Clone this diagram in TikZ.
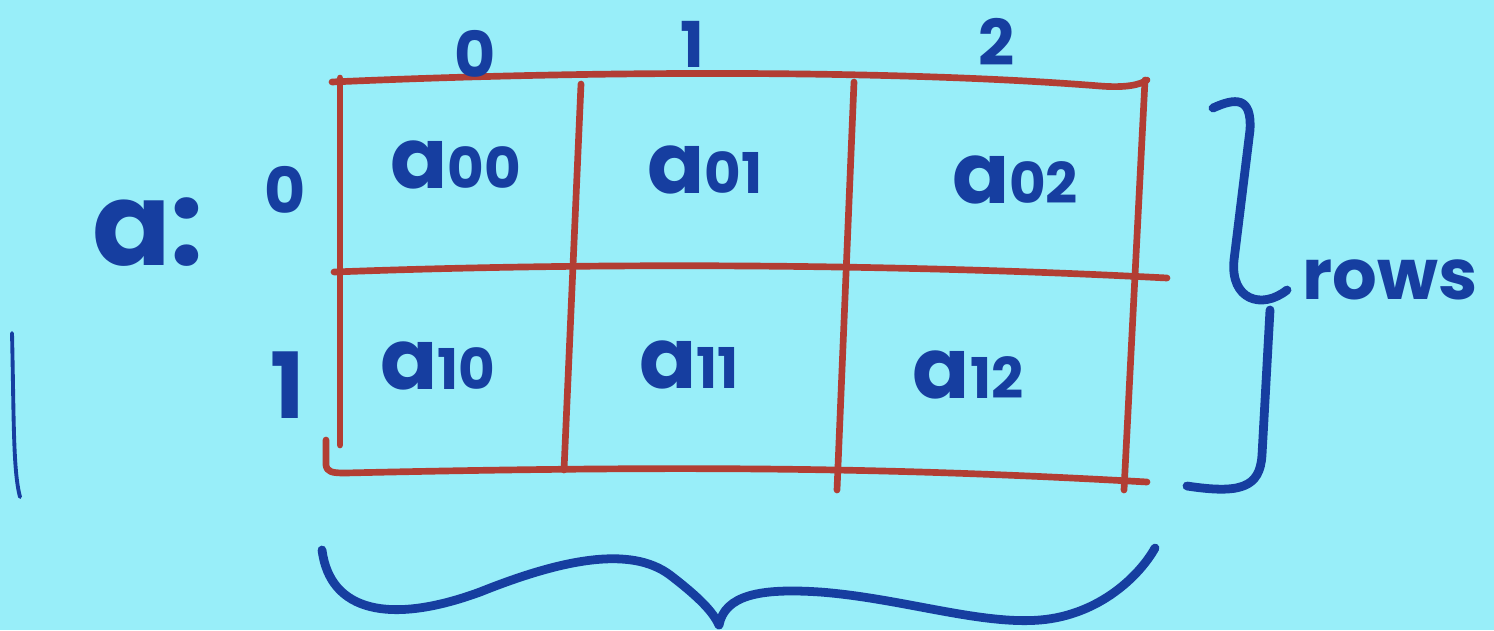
\documentclass[tikz,border=0pt]{standalone}
\usepackage{fontspec}
\setmainfont{Poppins}
\definecolor{bgcyan}{RGB}{152,238,249}
\definecolor{ink}{RGB}{22,62,160}
\definecolor{redink}{RGB}{178,62,52}
\newcommand{\cellsub}[1]{{\fontsize{32}{36}\selectfont #1}}
\begin{document}
\begin{tikzpicture}[x=0.02cm,y=-0.02cm,
  gridline/.style={draw=redink,line width=3.8pt,line cap=round,line join=round},
  bluestroke/.style={draw=ink,line width=5pt,line cap=round,line join=round},
  idx/.style={text=ink,font=\bfseries\fontsize{36}{40}\selectfont,inner sep=0pt},
  cell/.style={text=ink,font=\bfseries\fontsize{48}{52}\selectfont,inner sep=0pt},
  lbl/.style={text=ink,font=\bfseries\fontsize{40}{44}\selectfont,inner sep=0pt}]
\fill[bgcyan] (0,0) rectangle (1494,630);
\useasboundingbox (0,0) rectangle (1494,630);
% grid
\draw[gridline] (332,82) .. controls (600,70) and (900,70) .. (1100,86)
  .. controls (1125,88) and (1140,85) .. (1147,80);
\draw[gridline] (334,272) .. controls (600,262) and (900,264) .. (1167,278);
\draw[gridline] (326,440) -- (326,465) .. controls (327,472) and (332,473) .. (345,473)
  .. controls (700,465) and (900,468) .. (1147,482);
\draw[gridline] (340,78) -- (340,445);
\draw[gridline] (581,84) -- (564,470);
\draw[gridline] (854,82) -- (837,490);
\draw[gridline] (1145,80) -- (1124,490);
% column indices
\node[idx] (c0) at (475,54) {0};
\node[idx] (c1) at (692,44) {1};
\node[idx] (c2) at (997,42) {2};
% row indices
\node[idx] (r0) at (285,190) {0};
\node[idx,font=\bfseries\fontsize{52}{56}\selectfont] (r1) at (288,385) {1};
% array name
\node[lbl,font=\bfseries\fontsize{66}{70}\selectfont] (aname) at (148,232) {a:};
% cells
\node[cell] (a00) at (456,165) {a\cellsub{00}};
\node[cell] (a01) at (705,170) {a\cellsub{01}};
\node[cell] (a02) at (1015,180) {a\cellsub{02}};
\node[cell] (a10) at (438,366) {a\cellsub{10}};
\node[cell] (a11) at (689,365) {a\cellsub{11}};
\node[cell] (a12) at (968,375) {a\cellsub{12}};
% rows brace and label
\draw[bluestroke] (1213,108) .. controls (1235,98) and (1252,96) .. (1250,130)
  -- (1234,260) .. controls (1230,300) and (1262,310) .. (1287,290);
\draw[bluestroke] (1270,310) -- (1262,455) .. controls (1260,488) and (1240,494) .. (1187,486);
\node[lbl] (rows) at (1390,280) {rows};
% bottom brace
\coordinate (bb1) at (322,550);
\coordinate (bb2) at (719,625);
\coordinate (bb3) at (1155,548);
\draw[bluestroke] (bb1) .. controls (330,612) and (390,625) .. (480,592)
  .. controls (560,560) and (630,545) .. (670,575)
  .. controls (700,598) and (713,612) .. (bb2);
\draw[bluestroke] (bb2) .. controls (725,595) and (760,588) .. (820,592)
  .. controls (900,598) and (980,625) .. (1040,620)
  .. controls (1100,615) and (1140,575) .. (bb3);
% left margin line
\draw[draw=ink,line width=2.2pt,line cap=round] (12,333) .. controls (14,420) and (13,470) .. (20,497);
\end{tikzpicture}
\end{document}
